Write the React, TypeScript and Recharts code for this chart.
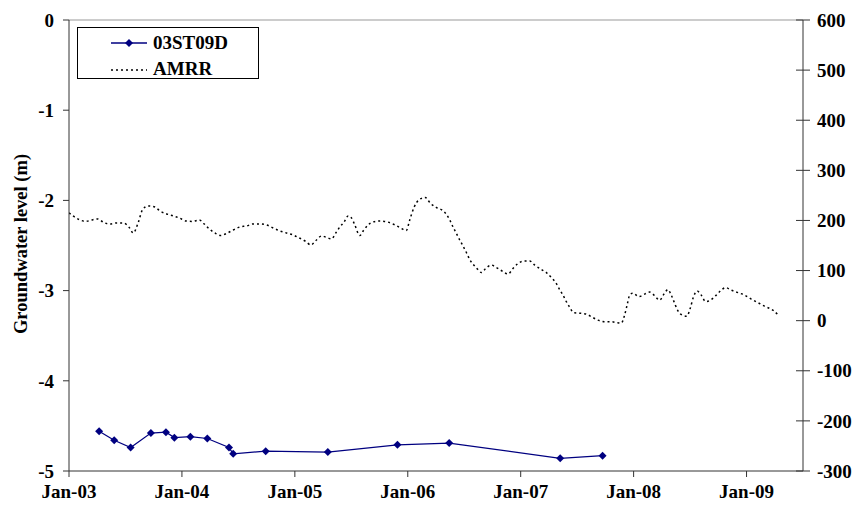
import { LineChart, Line, XAxis, YAxis, ReferenceLine } from 'recharts'

// x values are months counted from Jan 2003
const xTicks = [0, 12, 24, 36, 48, 60, 72]
const xTickLabels = ['Jan-03', 'Jan-04', 'Jan-05', 'Jan-06', 'Jan-07', 'Jan-08', 'Jan-09']
const levelTicks = [-5, -4, -3, -2, -1, 0]
const amrrTicks = [-300, -200, -100, 0, 100, 200, 300, 400, 500, 600]

// 03ST09D groundwater level (m)
const gwMonths = [3.2, 4.8, 6.55, 8.7, 10.3, 11.2, 12.9, 14.7, 17.0, 17.45, 20.9, 27.5, 34.9, 40.4, 52.2, 56.7]
const gwLevels = [-4.56, -4.66, -4.74, -4.58, -4.57, -4.63, -4.62, -4.64, -4.74, -4.81, -4.78, -4.79, -4.71, -4.69, -4.86, -4.83]

// AMRR series
const amrrMonths = [
  0, 1.06, 1.77, 2.41, 3.08, 3.68, 4.35, 5.07, 5.77, 6.4, 6.83, 7.36, 7.83, 8.42, 9.13, 9.66,
  10.38, 11.08, 11.71, 12.42, 13.14, 13.84, 14.37, 14.9, 15.5, 16.11, 16.75, 17.45, 18.16, 18.87,
  19.57, 20.28, 20.99, 21.7, 22.41, 23.12, 23.82, 24.46, 25.17, 25.7, 26.3, 26.84, 27.26, 27.9,
  28.35, 28.78, 29.24, 29.66, 30.02, 30.37, 30.9, 31.33, 31.78, 32.31, 33.03, 33.84, 34.54, 35.15,
  35.84, 36.21, 36.66, 37.19, 37.85, 38.42, 39.01, 39.61, 40.11, 40.46, 40.81, 41.17, 41.52, 41.87,
  42.23, 42.58, 43.01, 43.4, 43.83, 44.28, 44.89, 45.42, 46.12, 46.65, 47.18, 47.71, 48.32, 48.96,
  49.49, 50.2, 50.73, 51.26, 51.79, 52.14, 52.49, 52.85, 53.2, 53.63, 54.26, 54.98, 55.51, 56.21,
  56.92, 57.63, 58.22, 58.69, 59.04, 59.33, 59.58, 59.93, 60.56, 61.17, 61.7, 62.23, 62.76, 63.22,
  63.64, 64.0, 64.35, 64.7, 65.17, 65.66, 66.02, 66.37, 66.76, 67.19, 67.65, 68.17, 68.78, 69.31,
  69.77, 70.37, 71.08, 71.79, 72.5, 73.2, 73.91, 74.79, 75.5,
]
const amrrValues = [
  215, 202, 198, 201, 203, 196, 193, 195, 195, 186, 175, 196, 222, 229, 227, 219,
  213, 209, 205, 199, 198, 201, 193, 183, 175, 170, 174, 181, 187, 189,
  193, 193, 191, 185, 179, 175, 171, 165, 158, 151, 161, 169, 167, 163,
  175, 187, 197, 209, 205, 191, 170, 181, 191, 197, 199, 197, 192, 186,
  180, 201, 226, 241, 246, 234, 226, 221, 212, 201, 187, 174, 161, 149,
  136, 122, 111, 103, 96, 104, 111, 106, 98, 93, 104, 114, 119, 119,
  111, 102, 96, 86, 74, 62, 51, 38, 27, 16, 15, 13, 8, 1,
  -2, -2, -4, -5, 11, 33, 51, 55, 48, 53, 57, 50, 41, 53,
  62, 51, 35, 20, 11, 9, 25, 48, 59, 51, 38, 41, 51, 61,
  66, 61, 56, 51, 43, 36, 29, 21, 9,
]

const gwData = gwMonths.map((m, i) => ({ month: m, level: gwLevels[i] }))
const amrrData = amrrMonths.map((m, i) => ({ month: m, amrr: amrrValues[i] }))

const FONT = '"Liberation Serif", "Times New Roman", serif'
const NAVY = '#000080'
const AXIS = '#333333'

const tickStyle = { fill: '#000', fontSize: 19, fontWeight: 700, fontFamily: FONT }

function Diamond(props: any) {
  const { cx, cy } = props
  if (cx == null || cy == null) return null
  const r = 4
  return <polygon points={`${cx},${cy - r} ${cx + r},${cy} ${cx},${cy + r} ${cx - r},${cy}`} fill={NAVY} />
}

// right axis ticks cross the axis line
function RightTick(props: any) {
  const { x, y, payload } = props
  const axisX = x - 7 - 7
  return (
    <g>
      <line x1={axisX - 7} x2={axisX + 7} y1={y} y2={y} stroke={AXIS} />
      <text x={x} y={y} dy="0.35em" textAnchor="start" {...tickStyle}>
        {payload.value}
      </text>
    </g>
  )
}

function LegendBox() {
  return (
    <div
      style={{
        position: 'absolute',
        left: 77,
        top: 27,
        border: '1px solid #000',
        background: '#fff',
        width: 182,
        height: 52,
        boxSizing: 'border-box',
      }}
    >
      <svg width={180} height={50} style={{ display: 'block' }}>
        <line x1={33} x2={69} y1={15} y2={15} stroke={NAVY} strokeWidth={1.3} />
        <polygon points="51,11 55,15 51,19 47,15" fill={NAVY} />
        <text x={75} y={21} fontFamily={FONT} fontWeight={700} fontSize={19}>03ST09D</text>
        <line x1={33} x2={69} y1={42} y2={42} stroke="#000" strokeWidth={1.5} strokeDasharray="2 3" />
        <text x={75} y={47} fontFamily={FONT} fontWeight={700} fontSize={19}>AMRR</text>
      </svg>
    </div>
  )
}

export default function App() {
  return (
    <div style={{ position: 'absolute', left: 0, top: 0, width: 854, height: 512, background: '#fff' }}>
      <LineChart width={854} height={512} margin={{ top: 20, right: 0, bottom: 0, left: 0 }}>
        <XAxis
          type="number"
          dataKey="month"
          domain={[0, 78]}
          ticks={xTicks}
          tickFormatter={(v: number) => xTickLabels[xTicks.indexOf(v)]}
          allowDataOverflow
          height={41}
          tick={tickStyle}
          tickSize={6}
          tickMargin={8}
          stroke={AXIS}
        />
        <YAxis
          yAxisId="level"
          orientation="left"
          domain={[-5, 0]}
          ticks={levelTicks}
          width={69}
          tick={tickStyle}
          tickSize={6}
          tickMargin={9}
          stroke={AXIS}
          label={{
            content: () => (
              <text
                x={21}
                y={244}
                transform="rotate(-90 21 244)"
                textAnchor="middle"
                dominantBaseline="central"
                fontFamily={FONT}
                fontWeight={700}
                fontSize={18.5}
              >
                Groundwater level (m)
              </text>
            ),
          }}
        />
        <YAxis
          yAxisId="amrr"
          orientation="right"
          domain={[-300, 600]}
          ticks={amrrTicks}
          width={51}
          tick={<RightTick />}
          tickLine={false}
          tickSize={7}
          tickMargin={7}
          stroke={AXIS}
        />
        <ReferenceLine yAxisId="level" y={0} stroke="#999" />
        <Line
          yAxisId="amrr"
          data={amrrData}
          dataKey="amrr"
          type="monotone"
          stroke="#000"
          strokeWidth={1.5}
          strokeDasharray="2 3"
          dot={false}
          isAnimationActive={false}
        />
        <Line
          yAxisId="level"
          data={gwData}
          dataKey="level"
          type="linear"
          stroke={NAVY}
          strokeWidth={1.2}
          dot={<Diamond />}
          isAnimationActive={false}
        />
      </LineChart>
      <LegendBox />
    </div>
  )
}
